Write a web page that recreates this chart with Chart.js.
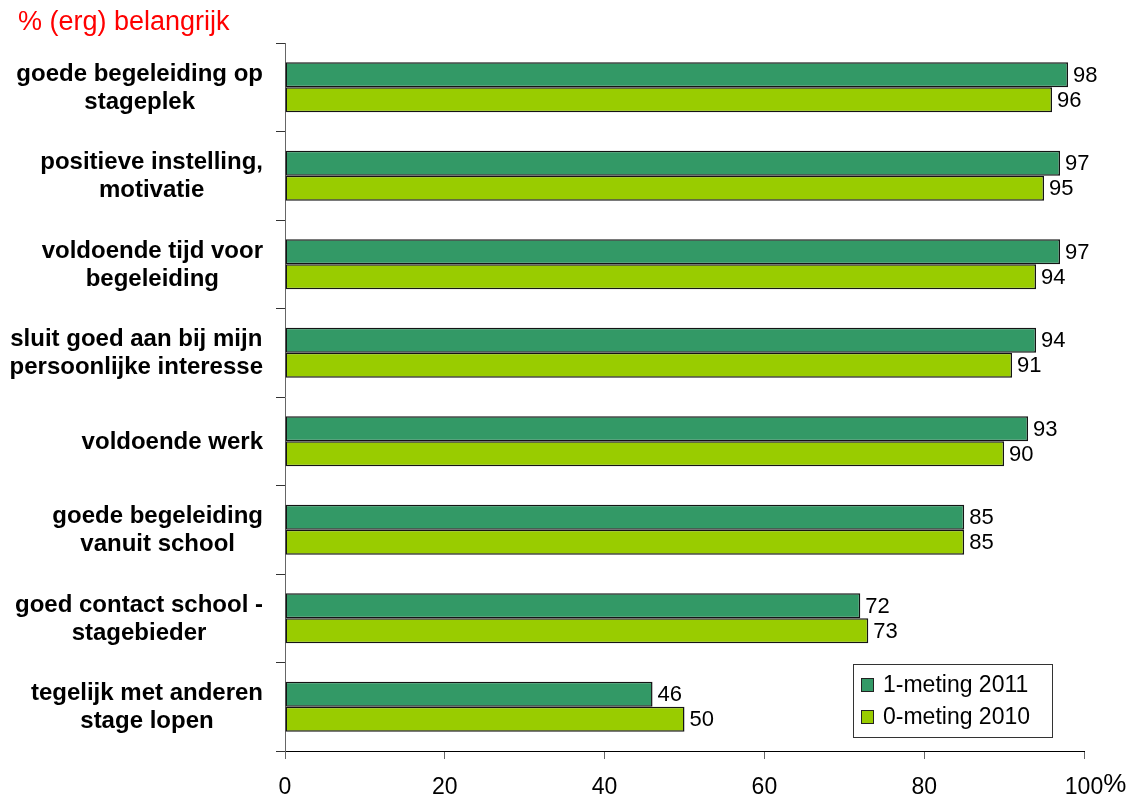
<!DOCTYPE html>
<html>
<head>
<meta charset="utf-8">
<script src="https://cdn.jsdelivr.net/npm/chart.js@4"></script>
<style>
  html, body { margin: 0; padding: 0; background: #fff; }
  canvas { display: block; }
</style>
</head>
<body>
<canvas id="chart" width="1133" height="798"></canvas>
<script>
/* ── data ── */
const categories = [
  ['goede begeleiding op', 'stageplek'],
  ['positieve instelling,', 'motivatie'],
  ['voldoende tijd voor', 'begeleiding'],
  ['sluit goed aan bij mijn', 'persoonlijke interesse'],
  ['voldoende werk'],
  ['goede begeleiding', 'vanuit school'],
  ['goed contact school -', 'stagebieder'],
  ['tegelijk met anderen', 'stage lopen'],
];
const meting2011 = [98, 97, 97, 94, 93, 85, 72, 46];
const meting2010 = [96, 95, 94, 91, 90, 85, 73, 50];
const seriesNames = ['1-meting 2011', '0-meting 2010'];
const xTicks = [0, 20, 40, 60, 80, 100];
const titleText = '% (erg) belangrijk';

const FONT = '"Liberation Sans", Arial, Helvetica, sans-serif';
const DARK = '#339966';
const LIGHT = '#99cc00';

// labels, values, legend, title and the "%" unit drawn by hand
const decorations = {
  id: 'decorations',
  afterDraw(chart) {
    const { ctx, chartArea } = chart;
    const yScale = chart.scales.y;
    const xScale = chart.scales.x;
    ctx.save();

    // title
    ctx.fillStyle = '#ff0000';
    ctx.font = `27px ${FONT}`;
    ctx.textAlign = 'left';
    ctx.textBaseline = 'alphabetic';
    ctx.fillText(titleText, 18, 30);

    // category labels: centred block, right edge near axis
    ctx.fillStyle = '#000';
    ctx.font = `bold 24px ${FONT}`;
    ctx.textAlign = 'center';
    ctx.textBaseline = 'middle';
    const rightEdge = chartArea.left - 22;
    categories.forEach((lines, i) => {
      const cy = yScale.getPixelForValue(i);
      const w = Math.max(...lines.map(l => ctx.measureText(l).width));
      const cx = rightEdge - w / 2;
      lines.forEach((line, j) => {
        ctx.fillText(line, cx, cy + (j - (lines.length - 1) / 2) * 28 + 1);
      });
    });

    // value labels
    ctx.font = `22px ${FONT}`;
    ctx.textAlign = 'left';
    chart.data.datasets.forEach((ds, di) => {
      chart.getDatasetMeta(di).data.forEach((bar, i) => {
        ctx.fillText(String(ds.data[i]), bar.x + 5, bar.y + 1);
      });
    });

    // "%" after last tick
    ctx.font = `23px ${FONT}`;
    const lastX = xScale.getPixelForValue(xTicks[xTicks.length - 1]);
    const halfW = ctx.measureText(String(xTicks[xTicks.length - 1])).width / 2;
    ctx.font = `26px ${FONT}`;
    ctx.textBaseline = 'alphabetic';
    ctx.fillText('%', lastX + halfW, 792);

    // legend box
    const lx = chartArea.right - 231;
    const ly = chartArea.bottom - 87;
    ctx.fillStyle = '#fff';
    ctx.fillRect(lx, ly, 199, 73);
    ctx.strokeStyle = '#333';
    ctx.lineWidth = 1;
    ctx.strokeRect(lx + 0.5, ly + 0.5, 199, 73);
    ctx.font = `23px ${FONT}`;
    ctx.textBaseline = 'middle';
    chart.data.datasets.forEach((ds, di) => {
      const iy = ly + 21 + di * 32;
      ctx.fillStyle = ds.backgroundColor;
      ctx.fillRect(lx + 8.5, iy - 6.5, 12, 13);
      ctx.strokeStyle = '#222';
      ctx.strokeRect(lx + 8.5, iy - 6.5, 12, 13);
      ctx.fillStyle = '#000';
      ctx.fillText(ds.label, lx + 30, iy + 1);
    });

    ctx.restore();
  },
};

new Chart(document.getElementById('chart'), {
  type: 'bar',
  data: {
    labels: categories.map(c => c.join(' ')),
    datasets: [
      {
        label: seriesNames[0],
        data: meting2011,
        backgroundColor: DARK,
        borderColor: '#141414',
        borderWidth: 1.5,
        borderSkipped: false,
        categoryPercentage: 0.565,
        barPercentage: 1.0,
      },
      {
        label: seriesNames[1],
        data: meting2010,
        backgroundColor: LIGHT,
        borderColor: '#141414',
        borderWidth: 1.5,
        borderSkipped: false,
        categoryPercentage: 0.565,
        barPercentage: 1.0,
      },
    ],
  },
  options: {
    indexAxis: 'y',
    responsive: false,
    animation: false,
    devicePixelRatio: 1,
    layout: { padding: { top: 43, left: 0, right: 49, bottom: 0 } },
    plugins: {
      legend: { display: false },
      tooltip: { enabled: false },
    },
    scales: {
      x: {
        min: 0,
        max: 100,
        afterBuildTicks: scale => {
          scale.ticks = xTicks.map(v => ({ value: v }));
        },
        afterFit: scale => { scale.height = 47; },
        border: { color: '#000', width: 1 },
        grid: {
          drawOnChartArea: false,
          drawTicks: true,
          tickLength: 8,
          color: '#666',
        },
        ticks: {
          color: '#000',
          padding: 15,
          font: { family: FONT, size: 23 },
          maxRotation: 0,
        },
      },
      y: {
        afterFit: scale => { scale.width = 285; },
        border: { color: '#666', width: 1 },
        grid: {
          drawOnChartArea: false,
          drawTicks: true,
          tickLength: 9,
          color: '#333',
          offset: true,
        },
        ticks: { display: false },
      },
    },
  },
  plugins: [decorations],
});
</script>
</body>
</html>
